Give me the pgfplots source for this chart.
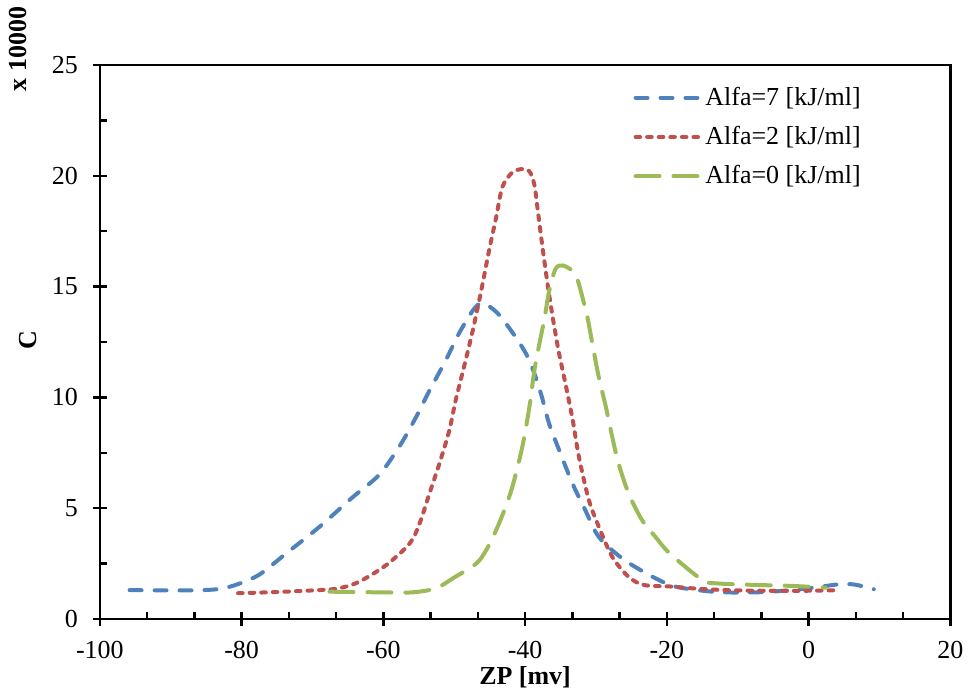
\documentclass[border=0pt]{standalone}
\usepackage{pgfplots}
\pgfplotsset{compat=1.18}
\usepackage{fontspec}
\setmainfont{Liberation Serif}

\definecolor{xlblue}{HTML}{4F81BD}
\definecolor{xlred}{HTML}{C0504D}
\definecolor{xlgreen}{HTML}{9BBB59}

\newcommand{\lblfont}{\fontsize{13}{15.6}\selectfont}

\begin{document}
\begin{tikzpicture}
\begin{axis}[
  scale only axis,
  width=426pt, height=277.5pt,
  xmin=-100, xmax=20, ymin=0, ymax=25,
  xtick={-100,-80,...,20},
  ytick={0,5,...,25},
  minor x tick num=2,
  minor y tick num=1,
  tick pos=left,
  tick align=center,
  major tick length=7pt,
  minor tick length=3.5pt,
  minor x tick style={yshift=1.75pt},
  minor y tick style={xshift=1.75pt},
  every tick/.style={black, line width=1.2pt},
  axis line style={line width=1.3pt},
  /pgf/number format/assume math mode=true,
  tick label style={font=\lblfont},
  xticklabel style={yshift=-4pt},
  yticklabel style={xshift=-4pt},
  xlabel={\textbf{ZP [mv]}},
  ylabel={\textbf{C}},
  label style={font=\lblfont},
  xlabel style={yshift=3pt},
  ylabel style={at={(rel axis cs:-0.0845,0.503)}, anchor=center},
  legend style={at={(0.62,0.975)}, anchor=north west, draw=none, fill=none,
    font=\lblfont, row sep=5pt},
  legend cell align=left,
  legend image code/.code={\draw[#1] (0pt,0pt) -- (32pt,0pt);},
  clip=false,
]
\addplot[xlblue, line width=2pt, line cap=round, dash pattern=on 6pt off 6.5pt, smooth] coordinates {
(-95.8,1.30) (-89.2,1.29) (-85.5,1.30) (-83,1.36) (-80.7,1.55) (-77.5,2.0)
(-73.7,2.96) (-69,4.16) (-64.3,5.5) (-60.6,6.5) (-57.7,7.8) (-55.4,9.1)
(-53.5,10.3) (-51.2,11.67) (-49.3,12.9) (-47.3,13.95) (-46,14.25) (-43.9,13.8)
(-41.3,12.7) (-39.4,11.67) (-37.8,10.2) (-36.6,8.8) (-35,7.46) (-33.3,6.1)
(-31.5,4.9) (-29.6,3.7) (-26.3,2.73) (-22.3,1.95) (-18.8,1.46) (-13.6,1.23)
(-9.4,1.19) (-5.2,1.23) (0,1.38) (4.2,1.56) (6.5,1.55) (9.2,1.34)
};
\addlegendentry{Alfa=7 [kJ/ml]}
\addplot[xlred, line width=2pt, line cap=round, dash pattern=on 2.3pt off 3.5pt, smooth] coordinates {
(-80.5,1.16) (-74.6,1.22) (-68.1,1.32) (-66,1.4) (-63.4,1.68) (-59.6,2.43)
(-56.3,3.4) (-54.9,4.3) (-53.5,5.66) (-52.1,7.0) (-50.7,8.5) (-49.8,9.86)
(-48.6,11.4) (-47.4,13.0) (-46.2,14.8) (-45.1,16.6) (-44.1,18.1) (-43.2,19.5)
(-41.8,20.15) (-40.4,20.3) (-39.4,20.2) (-38.7,19.6) (-38.2,18.4) (-37.6,16.9)
(-36.6,14.6) (-35.4,12.3) (-34.3,10.6) (-33.3,9.0) (-32.4,7.3) (-31,5.36)
(-29.6,4.16) (-27.7,2.8) (-25.4,1.9) (-23.2,1.53) (-19.3,1.46) (-16.4,1.38)
(-11.7,1.3) (-6.1,1.27) (-0.5,1.27) (4.4,1.3)
};
\addlegendentry{Alfa=2 [kJ/ml]}
\addplot[xlgreen, line width=2pt, line cap=round, dash pattern=on 12pt off 7pt, smooth] coordinates {
(-67.6,1.23) (-60.6,1.2) (-55.9,1.2) (-52.6,1.38) (-50.2,1.83) (-46.9,2.5)
(-45.5,3.1) (-44.1,4.0) (-43,4.85) (-41.8,5.96) (-40.4,7.76) (-39.4,9.56)
(-38.7,11.2) (-38,12.4) (-37.3,13.5) (-36.6,14.8) (-35.7,15.8) (-34.7,15.95)
(-33.3,15.7) (-32.6,15.3) (-31.9,14.5) (-31.2,13.6) (-30.5,12.4) (-29.6,10.9)
(-28.6,9.56) (-27.7,8.2) (-26.8,7.0) (-25.4,5.66) (-23.5,4.46) (-21.6,3.7)
(-19.6,2.96) (-15,1.76) (-12.7,1.6) (-7,1.53) (-2.35,1.49) (2.4,1.41)
};
\addlegendentry{Alfa=0 [kJ/ml]}
\node[rotate=90, font=\lblfont\bfseries] at (rel axis cs:-0.0965,1.029) {x 10000};
\path (rel axis cs:-0.1174,-0.1333) rectangle (rel axis cs:1.0211,1.1153);
\end{axis}
\end{tikzpicture}
\end{document}
